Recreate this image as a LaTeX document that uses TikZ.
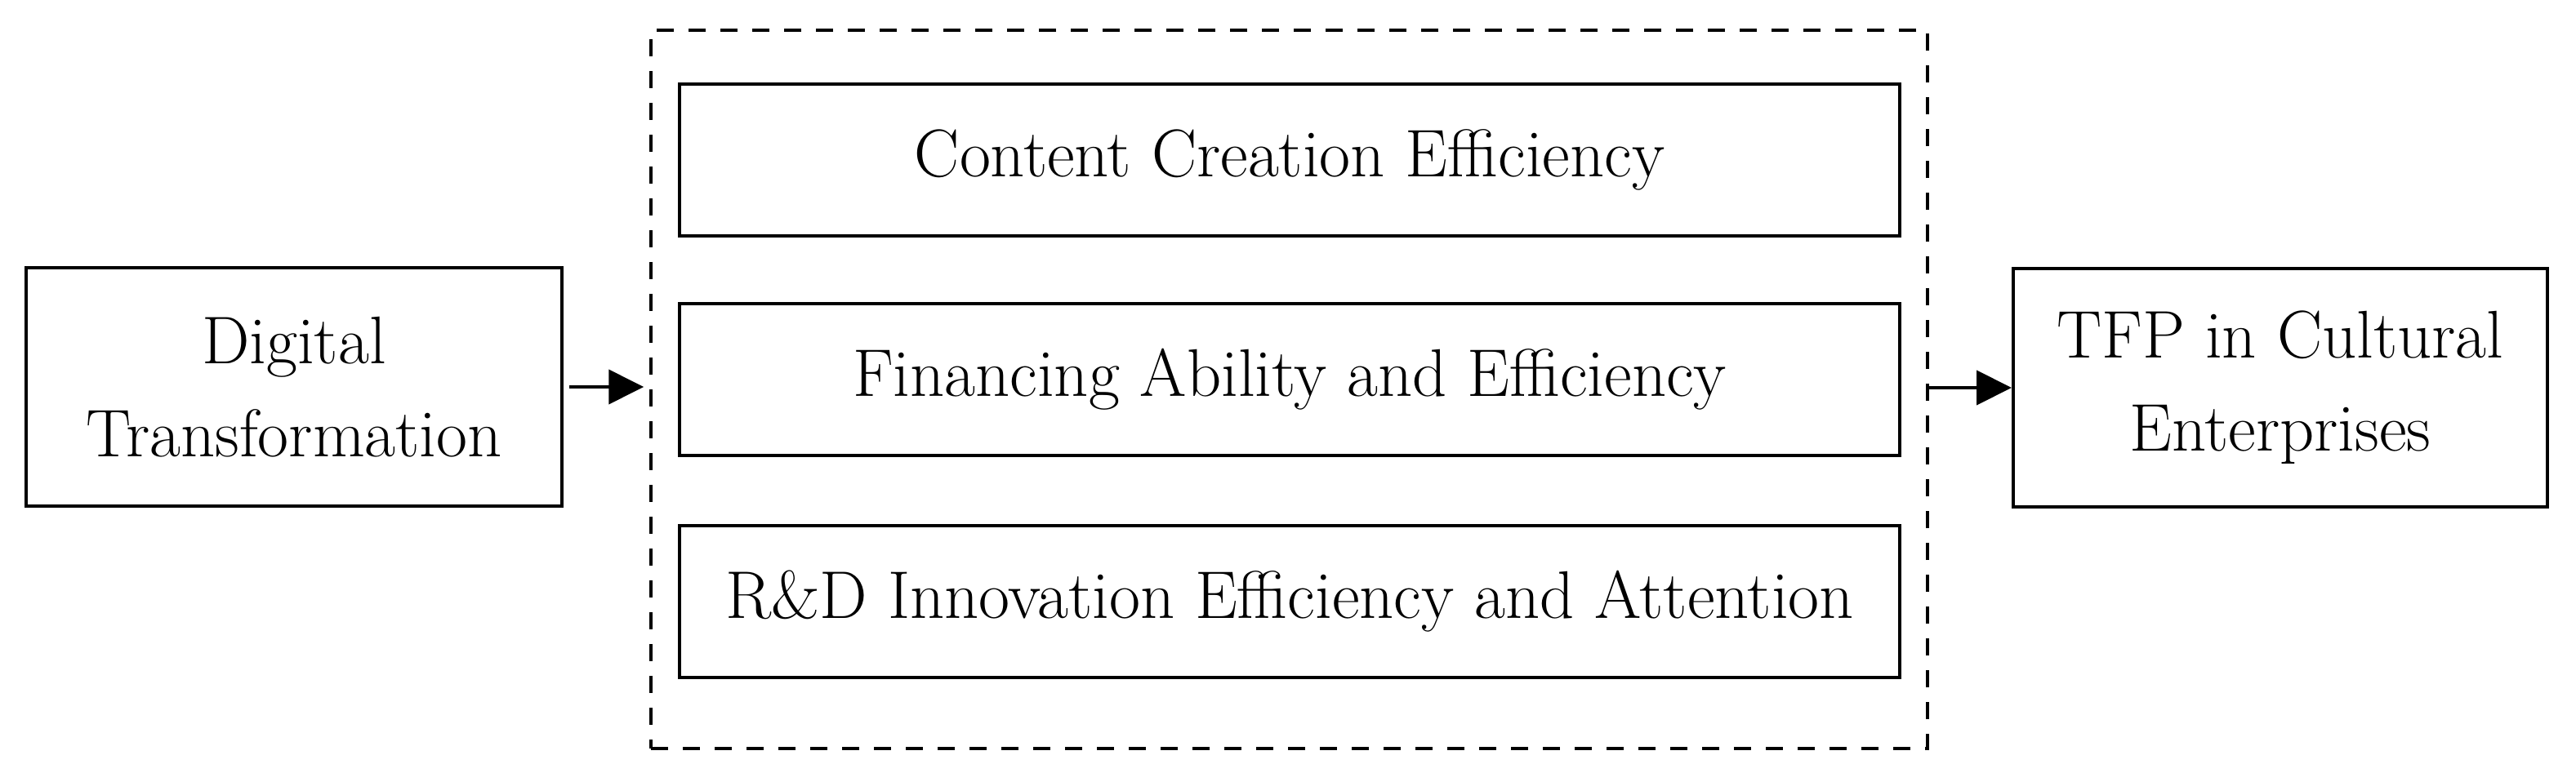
\documentclass[tikz,border=0pt]{standalone}
\usepackage{fontspec}
\usetikzlibrary{arrows.meta}
\newcommand{\boxfont}{\fontsize{23.5}{32.5}\selectfont}
\tikzset{
    block/.style={draw, line width=0.04cm, align=center, font=\boxfont, inner sep=0pt},
    mechbox/.style={block, minimum width=14.94cm, minimum height=1.86cm},
    group/.style={draw, dash pattern=on 0.21cm off 0.18cm, line width=0.035cm, inner sep=0pt},
    flow/.style={line width=0.04cm, -{Triangle[length=0.43cm,width=0.42cm]}}
}

\begin{document}
\begin{tikzpicture}
    \useasboundingbox (0,0) rectangle (31.54,9.46);

    \node[block, minimum width=6.56cm, minimum height=2.92cm] (digital) at (3.60,4.72) {Digital\\ Transformation};

    \node[group, minimum width=15.63cm, minimum height=8.80cm] (mech) at (15.785,4.69) {};

    \node[mechbox] (content) at (15.79,7.50) {Content Creation Efficiency};
    \node[mechbox] (finance) at (15.79,4.81) {Financing Ability and Efficiency};
    \node[mechbox] (rnd) at (15.79,2.09) {R\&D Innovation Efficiency and Attention};

    \node[block, minimum width=6.54cm, minimum height=2.91cm] (tfp) at (27.92,4.71) {TFP in Cultural\\ Enterprises};

    \draw[flow, shorten <=0.07cm, shorten >=0.07cm] (digital.east) -- (digital.east -| mech.west);
    \draw[flow] (tfp.west -| mech.east) -- (tfp.west);

\end{tikzpicture}
\end{document}
